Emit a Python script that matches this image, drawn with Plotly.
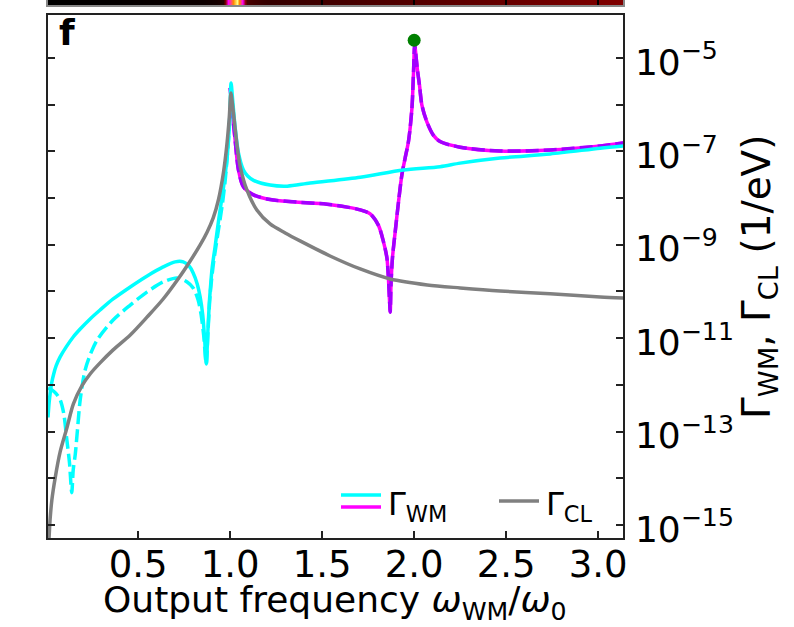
import plotly.graph_objects as go

# ---------------- data ----------------
wm_solid_x = [0.01, 0.016, 0.022, 0.030, 0.041, 0.054, 0.076, 0.109, 0.147, 0.185, 0.239, 0.293,
              0.364, 0.457, 0.549, 0.636, 0.701, 0.745, 0.777, 0.799, 0.821, 0.837, 0.851, 0.861,
              0.870, 0.878, 0.886, 0.894, 0.902, 0.918, 0.936, 0.951, 0.964, 0.982, 0.996, 1.005,
              1.0136, 1.027, 1.045, 1.072, 1.095, 1.127, 1.217, 1.310, 1.435, 1.707, 1.940, 2.141,
              2.250, 2.467, 2.739, 3.011, 3.136]
wm_solid_y = [2.0e-13, 4.1e-13, 6.7e-13, 1.1e-12, 1.71e-12, 2.54e-12, 3.96e-12, 6.5e-12, 1.06e-11,
              1.57e-11, 2.58e-11, 4.0e-11, 6.9e-11, 1.25e-10, 2.15e-10, 3.35e-10, 4.3e-10, 4.3e-10,
              3.5e-10, 2.49e-10, 1.45e-10, 7.6e-11, 3.14e-11, 1.01e-11, 2.8e-12, 1.17e-11, 5.1e-11,
              1.38e-10, 3.18e-10, 9.0e-10, 3.08e-9, 7.85e-9, 1.73e-8, 6.5e-8, 3.5e-7, 2.9e-6,
              1.26e-6, 3.3e-7, 9.3e-8, 4.0e-8, 2.97e-8, 2.4e-8, 1.9e-8, 1.8e-8, 2.1e-8, 2.8e-8,
              4.0e-8, 4.7e-8, 5.6e-8, 7.2e-8, 8.8e-8, 1.17e-7, 1.31e-7]

wm_dash_x = [0.01, 0.033, 0.054, 0.076, 0.095, 0.1125, 0.127, 0.139, 0.147, 0.158, 0.170, 0.185,
             0.212, 0.245, 0.277, 0.364, 0.457, 0.549, 0.636, 0.712, 0.766, 0.799, 0.826, 0.842,
             0.856, 0.870, 0.880, 0.891, 0.908, 0.924, 0.940, 0.957, 0.973, 0.989, 1.0]
wm_dash_y = [8.5e-13, 7.7e-13, 6.5e-13, 4.8e-13, 2.5e-13, 6.6e-14, 2.1e-14, 4.9e-15, 1.5e-14,
             3.2e-14, 1.07e-13, 4.8e-13, 2.1e-12, 5.0e-12, 9.1e-12, 2.45e-11, 5.1e-11, 9.8e-11,
             1.6e-10, 1.95e-10, 1.6e-10, 1.19e-10, 6.6e-11, 3.2e-11, 1.17e-11, 2.8e-12, 1.5e-11,
             8.4e-11, 3.7e-10, 1.0e-9, 2.6e-9, 7.1e-9, 2.4e-8, 1.4e-7, 7.7e-7]

wm2_x = [1.0, 1.011, 1.027, 1.045, 1.072, 1.127, 1.217, 1.342, 1.527, 1.636, 1.707, 1.761, 1.806,
         1.833, 1.852, 1.860, 1.866, 1.870, 1.874, 1.882, 1.897, 1.915, 1.933, 1.951, 1.969, 1.988,
         1.996, 2.003, 2.011, 2.018, 2.029, 2.042, 2.069, 2.105, 2.141, 2.25, 2.467, 2.739, 3.011, 3.136]
wm2_y = [2.3e-6, 7.7e-7, 1.74e-7, 4.0e-8, 1.74e-8, 1.17e-8, 9.3e-9, 8.3e-9, 7.4e-9, 6.4e-9, 5.6e-9,
         4.6e-9, 2.6e-9, 1.17e-9, 5.2e-10, 1.95e-10, 6.6e-11, 3.6e-11, 1.38e-10, 5.2e-10, 1.9e-9,
         8.3e-9, 3.1e-8, 7.2e-8, 1.62e-7, 8.5e-7, 4.3e-6, 1.9e-5, 1.0e-5, 5.5e-6, 2.6e-6, 9.8e-7,
         4.3e-7, 2.2e-7, 1.62e-7, 1.23e-7, 1.02e-7, 1.07e-7, 1.31e-7, 1.51e-7]

cl_x = [0.01, 0.018, 0.022, 0.031, 0.049, 0.076, 0.1125, 0.148, 0.194, 0.239, 0.293, 0.364, 0.457,
        0.549, 0.636, 0.717, 0.783, 0.837, 0.875, 0.908, 0.936, 0.964, 0.982, 0.995, 1.004, 1.016,
        1.036, 1.054, 1.091, 1.145, 1.217, 1.299, 1.380, 1.543, 1.707, 1.870, 2.071, 2.25,
        2.467, 2.739, 3.011, 3.136]
cl_y = [2.0e-16, 7.8e-16, 1.41e-15, 3.43e-15, 1.02e-14, 3.66e-14, 1.19e-13, 3.9e-13, 9.5e-13,
        1.71e-12, 2.95e-12, 5.6e-12, 1.17e-11, 2.85e-11, 6.9e-11, 1.85e-10, 4.5e-10, 9.9e-10,
        1.88e-9, 3.75e-9, 9.1e-9, 3.63e-8, 1.37e-7, 5.2e-7, 1.78e-6, 7.7e-7, 1.51e-7, 4.86e-8,
        1.49e-8, 5.56e-9, 2.79e-9, 1.79e-9, 1.21e-9, 5.75e-10, 3.03e-10, 1.85e-10, 1.38e-10,
        1.19e-10, 1.02e-10, 8.9e-11, 7.6e-11, 7.2e-11]

dot_x = [2.0]
dot_y = [2.4e-5]

strip_x = [0.0, 0.3, 0.6, 0.85, 0.93, 0.96, 0.975, 0.99, 1.005, 1.02, 1.035, 1.05, 1.07, 1.09,
           1.2, 1.5, 2.0, 2.5, 3.0, 3.14]
strip_z = [0.0, 0.01, 0.03, 0.05, 0.08, 0.12, 0.4, 0.55, 0.7, 0.85, 1.0, 0.8, 0.5, 0.22,
           0.17, 0.2, 0.24, 0.28, 0.32, 0.33]

x_tickvals = [0.5, 1.0, 1.5, 2.0, 2.5, 3.0]
x_ticktext = ["0.5", "1.0", "1.5", "2.0", "2.5", "3.0"]
y_exponents = [-15, -14, -13, -12, -11, -10, -9, -8, -7, -6, -5]

# ---------------- figure ----------------
FONT = "DejaVu Sans"
CYAN = "#00ffff"
MAGENTA = "#ff00ff"
VIOLET = "#a100ff"
GRAY = "#808080"
LW = 3.5
SM = 0.8

fig = go.Figure()

fig.add_trace(go.Heatmap(x=strip_x, y=[0, 1], z=[strip_z, strip_z], xaxis="x2", yaxis="y2",
                         zmin=0, zmax=1, showscale=False, zsmooth="best",
                         colorscale=[[0, "#000000"], [0.1, "#1a0000"], [0.2, "#400000"],
                                     [0.35, "#8a0000"], [0.55, "#ff00ff"], [0.8, "#ff8800"],
                                     [1, "#ffff80"]]))

fig.add_trace(go.Scatter(x=wm2_x, y=wm2_y, mode="lines",
                         line=dict(color=MAGENTA, width=LW, shape="spline", smoothing=SM)))
fig.add_trace(go.Scatter(x=wm2_x, y=wm2_y, mode="lines",
                         line=dict(color=VIOLET, width=LW, dash="13px,5px", shape="spline", smoothing=SM)))
fig.add_trace(go.Scatter(x=wm_solid_x, y=wm_solid_y, mode="lines",
                         line=dict(color=CYAN, width=LW, shape="spline", smoothing=SM)))
fig.add_trace(go.Scatter(x=wm_dash_x, y=wm_dash_y, mode="lines",
                         line=dict(color=CYAN, width=LW, dash="13px,5px", shape="spline", smoothing=SM)))
fig.add_trace(go.Scatter(x=cl_x, y=cl_y, mode="lines",
                         line=dict(color=GRAY, width=LW, shape="spline", smoothing=SM)))
fig.add_trace(go.Scatter(x=dot_x, y=dot_y, mode="markers", cliponaxis=False,
                         marker=dict(color="#008000", size=13)))

ytickvals = [10.0 ** e for e in y_exponents]
yticktext = [("10<sup>\u2212%d</sup>" % (-e)) if e % 2 else "" for e in y_exponents]

axis_common = dict(showgrid=False, zeroline=False, showline=True, linecolor="#222",
                   linewidth=1.5, tickcolor="#222", tickwidth=1.5, ticklen=7, ticks="inside")

fig.update_layout(
    width=794, height=627,
    margin=dict(l=48, r=171, t=0, b=89),
    paper_bgcolor="white", plot_bgcolor="white",
    showlegend=False,
    font=dict(family=FONT, color="black"),
    xaxis=dict(domain=[0, 1], anchor="y", range=[0.01, 3.135], tickmode="array",
               tickvals=x_tickvals, ticktext=x_ticktext, mirror=True,
               tickfont=dict(size=37), ticklabelstandoff=-7,
               **axis_common),
    yaxis=dict(domain=[0, 0.9712], anchor="x", type="log", range=[-15.28, -4.09], side="right",
               tickmode="array", tickvals=ytickvals, ticktext=yticktext, mirror="allticks",
               tickfont=dict(size=36), ticklabelstandoff=3, ticklabelshift=4,
               title=dict(text="\u0393<sub>WM</sub>, \u0393<sub>CL</sub> (1/eV)",
                          font=dict(size=39), standoff=2),
               **axis_common),
    xaxis2=dict(domain=[0, 1], anchor="y2", range=[0.01, 3.135], showticklabels=False,
                tickmode="array", tickvals=[1.5, 2.0, 2.5, 3.0], ticks="inside", ticklen=5,
                tickcolor="black", tickwidth=2, showgrid=False, zeroline=False,
                showline=True, linecolor="#888", linewidth=1.5),
    yaxis2=dict(domain=[0.9907, 1], anchor="x2", range=[-0.5, 1.5], showticklabels=False,
                showgrid=False, zeroline=False, showline=True, mirror=True,
                linecolor="#888", linewidth=1.5, ticks=""),
)


def px2paper(px, py):
    return (px - 48) / 575.0, (538 - py) / 538.0


# x-axis title
tx, ty = px2paper(335, 603)
fig.add_annotation(text="Output frequency <i>\u03c9</i><sub>WM</sub>/<i>\u03c9</i><sub>0</sub>",
                   xref="paper", yref="paper", x=tx, y=ty, xanchor="center", yanchor="middle",
                   showarrow=False, font=dict(size=36, family=FONT, color="black"))

# panel letter
fx, fy = px2paper(57, 10)
fig.add_annotation(text="<b>f</b>", xref="paper", yref="paper", x=fx, y=fy,
                   xanchor="left", yanchor="top", showarrow=False,
                   font=dict(size=36, family=FONT, color="black"))

# manual legend (double line for Γ_WM)
for (x0, x1, yy, col) in [(341, 381, 495, CYAN), (341, 381, 507, MAGENTA), (499, 539, 501, GRAY)]:
    a0, b0 = px2paper(x0, yy)
    a1, _ = px2paper(x1, yy)
    fig.add_shape(type="line", xref="paper", yref="paper", x0=a0, x1=a1, y0=b0, y1=b0,
                  line=dict(color=col, width=LW))

lx, ly = px2paper(386, 506)
fig.add_annotation(text="\u0393<sub>WM</sub>", xref="paper", yref="paper", x=lx, y=ly,
                   xanchor="left", yanchor="middle", showarrow=False,
                   font=dict(size=32, family=FONT, color="black"))
lx, ly = px2paper(544, 506)
fig.add_annotation(text="\u0393<sub>CL</sub>", xref="paper", yref="paper", x=lx, y=ly,
                   xanchor="left", yanchor="middle", showarrow=False,
                   font=dict(size=32, family=FONT, color="black"))

fig.write_html("out.html")
